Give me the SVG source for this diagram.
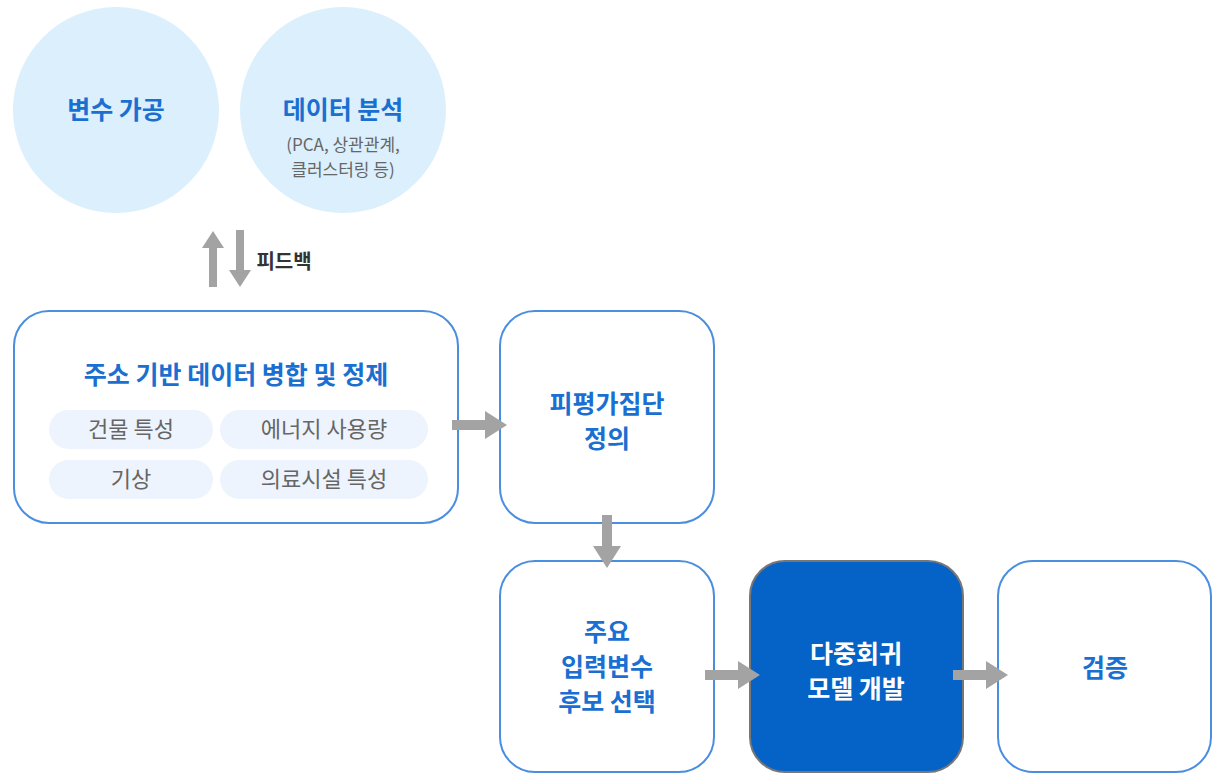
<svg xmlns="http://www.w3.org/2000/svg" width="1224" height="784" viewBox="0 0 1224 784">
<style>
text{font-family:"Noto Sans CJK KR","Noto Sans",sans-serif;text-anchor:middle}
.t{font-size:25px;font-weight:bold;fill:#1a6fd0}
.s{font-size:17px;fill:#666}
.p{font-size:22px;fill:#666}
.box{fill:#fff;stroke:#4a8ee0;stroke-width:2}
.pill{fill:#eef4fd}
.ar{fill:#a3a3a3}
</style>
<rect width="1224" height="784" fill="#fff"/>
<g id="n_var"><circle cx="116" cy="110" r="103" fill="#dbeffc"/><text class="t" x="116" y="119">변수 가공</text></g>
<g id="n_ana"><circle cx="343" cy="110" r="103" fill="#dbeffc"/><text class="t" x="343" y="119">데이터 분석</text><text class="s" x="343" y="151">(PCA, 상관관계,</text><text class="s" x="343" y="176">클러스터링 등)</text></g>
<g id="n_merge"><rect class="box" x="14" y="311" width="444" height="212" rx="35"/><text class="t" x="236" y="384">주소 기반 데이터 병합 및 정제</text>
<rect class="pill" x="49" y="410" width="164" height="39" rx="19.5"/><rect class="pill" x="220" y="410" width="208" height="39" rx="19.5"/>
<rect class="pill" x="49" y="460" width="164" height="39" rx="19.5"/><rect class="pill" x="220" y="460" width="208" height="39" rx="19.5"/>
<text class="p" x="131" y="437">건물 특성</text><text class="p" x="324" y="437">에너지 사용량</text><text class="p" x="131" y="487">기상</text><text class="p" x="324" y="487">의료시설 특성</text></g>
<g id="n_pop"><rect class="box" x="500" y="311" width="214" height="212" rx="35"/><text class="t" x="607" y="413">피평가집단</text><text class="t" x="607" y="448">정의</text></g>
<g id="n_sel"><rect class="box" x="500" y="561" width="214" height="211" rx="35"/><text class="t" x="607" y="641">주요</text><text class="t" x="607" y="676">입력변수</text><text class="t" x="607" y="711">후보 선택</text></g>
<g id="n_model"><rect x="750" y="561" width="213" height="211" rx="35" fill="#0563c8" stroke="#777" stroke-width="2"/><text class="t" x="856" y="663" fill="#fff" style="fill:#fff">다중회귀</text><text class="t" style="fill:#fff" x="856" y="698">모델 개발</text></g>
<g id="n_ver"><rect class="box" x="998" y="561" width="213" height="211" rx="35"/><text class="t" x="1105" y="677">검증</text></g>
<g id="connectors">
<polygon class="ar" points="209,287 217,287 217,248 224,248 213,231 202,248 209,248"/>
<polygon class="ar" points="236,230 244,230 244,270 251,270 240,287 229,270 236,270"/>
<text x="284" y="269" style="font-size:20px;font-weight:bold;fill:#333">피드백</text>
<polygon class="ar" points="452,420 485,420 485,411 507,425 485,439 485,430 452,430"/>
<polygon class="ar" points="602,515 612,515 612,546 621,546 607,568 593,546 602,546"/>
<polygon class="ar" points="705,670 738,670 738,661 760,675 738,689 738,680 705,680"/>
<polygon class="ar" points="953,670 986,670 986,661 1008,675 986,689 986,680 953,680"/>
</g>
</svg>
